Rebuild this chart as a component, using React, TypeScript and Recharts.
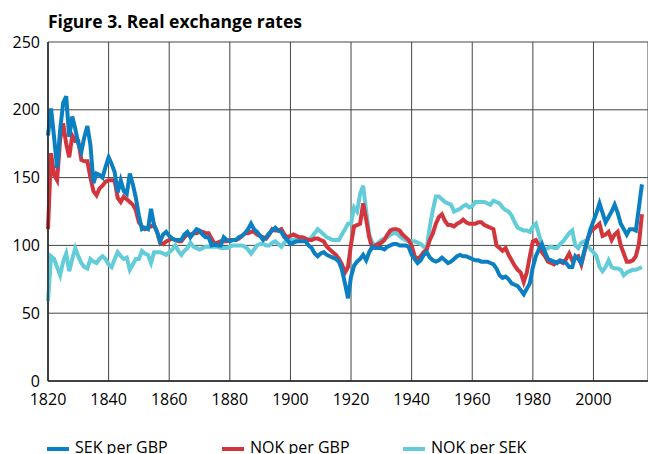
import React from 'react';
import { LineChart, Line, XAxis, YAxis, CartesianGrid } from 'recharts';

// one value per year, 1820 to 2016
const startYear = 1820;

const sekPerGbp = [
  181, 201, 180, 157, 185, 205, 210, 180, 195, 186,
  175, 169, 180, 188, 174, 146, 153, 152, 150, 158,
  165, 160, 154, 139, 148, 140, 138, 153, 145, 135,
  122, 112, 113, 112, 127, 115, 110, 103, 108, 110,
  107, 105, 104, 104, 104, 108, 110, 106, 109, 112,
  111, 108, 106, 106, 100, 101, 100, 100, 106, 104,
  103, 104, 104, 106, 107, 109, 112, 116, 112, 110,
  107, 104, 106, 109, 111, 113, 111, 110, 106, 104,
  101, 102, 103, 103, 103, 103, 100, 98, 94, 92,
  94, 95, 93, 92, 91, 90, 88, 82, 72, 61,
  77, 85, 88, 90, 93, 89, 95, 99, 98, 98,
  98, 97, 99, 100, 101, 101, 100, 100, 100, 99,
  93, 90, 87, 89, 93, 95, 91, 89, 88, 89,
  91, 89, 87, 88, 90, 92, 93, 92, 92, 91,
  90, 89, 89, 88, 88, 88, 87, 86, 83, 78,
  76, 77, 75, 72, 71, 70, 67, 64, 68, 72,
  84, 92, 97, 101, 95, 90, 89, 88, 87, 89,
  88, 87, 84, 84, 92, 90, 87, 96, 104, 112,
  118, 124, 131, 124, 117, 121, 125, 130, 124, 116,
  112, 108, 112, 112, 111, 128, 145,
];

const nokPerGbp = [
  112, 168, 152, 148, 178, 190, 175, 165, 181, 177,
  177, 163, 162, 162, 150, 140, 137, 142, 144, 147,
  148, 148, 148, 135, 132, 136, 134, 132, 130, 126,
  117, 114, 112, 113, 114, 115, 110, 102, 101, 103,
  104, 105, 104, 103, 103, 106, 108, 108, 109, 109,
  110, 110, 109, 109, 105, 101, 102, 103, 103, 103,
  104, 104, 104, 105, 107, 109, 109, 110, 110, 108,
  107, 106, 105, 108, 112, 111, 111, 112, 108, 106,
  107, 108, 107, 106, 106, 105, 104, 104, 105, 105,
  104, 103, 99, 97, 95, 93, 90, 86, 80, 84,
  101, 114, 115, 116, 131, 119, 106, 98, 100, 101,
  102, 104, 108, 111, 112, 112, 111, 108, 106, 104,
  100, 92, 90, 92, 95, 97, 104, 109, 116, 121,
  123, 118, 115, 115, 114, 116, 117, 119, 117, 116,
  116, 116, 117, 117, 115, 114, 113, 112, 100, 98,
  96, 98, 93, 89, 85, 82, 80, 73, 80, 92,
  103, 104, 100, 95, 92, 88, 87, 86, 88, 88,
  87, 90, 94, 89, 91, 92, 86, 95, 104, 110,
  112, 114, 116, 107, 108, 110, 104, 108, 110, 100,
  94, 88, 88, 89, 92, 101, 123,
];

const nokPerSek = [
  59, 92, 90, 84, 78, 88, 94, 81, 90, 98,
  92, 87, 84, 83, 90, 88, 87, 90, 92, 90,
  86, 84, 90, 95, 92, 90, 91, 82, 86, 90,
  90, 96, 94, 93, 87, 95, 95, 95, 94, 93,
  95, 97, 100, 96, 93, 96, 98, 102, 99, 98,
  97, 98, 99, 99, 99, 99, 99, 98, 98, 98,
  99, 100, 100, 100, 100, 99, 97, 94, 97, 100,
  101, 101, 100, 100, 102, 103, 101, 99, 102, 104,
  104, 104, 105, 105, 105, 104, 104, 106, 109, 112,
  110, 108, 106, 105, 104, 104, 104, 108, 112, 116,
  116, 128, 125, 138, 144, 125, 108, 102, 100, 102,
  104, 105, 106, 108, 109, 109, 107, 105, 104, 103,
  103, 103, 102, 101, 99, 98, 114, 126, 136, 136,
  134, 132, 131, 130, 125, 126, 127, 129, 130, 128,
  129, 132, 132, 132, 132, 131, 130, 133, 132, 131,
  128, 126, 125, 122, 117, 113, 112, 111, 111, 110,
  114, 116, 108, 100, 97, 98, 99, 98, 98, 101,
  103, 106, 109, 111, 100, 98, 102, 103, 100, 97,
  95, 92, 84, 81, 84, 89, 84, 83, 83, 82,
  78, 80, 81, 82, 82, 83, 84,
];

const xTicks = [1820, 1840, 1860, 1880, 1900, 1920, 1940, 1960, 1980, 2000];
const yTicks = [0, 50, 100, 150, 200, 250];

const seriesList = [
  { key: 'sek', name: 'SEK per GBP', color: '#0a7fc2', legendLeft: 47 },
  { key: 'nok', name: 'NOK per GBP', color: '#d2353b', legendLeft: 222 },
  { key: 'nokSek', name: 'NOK per SEK', color: '#63ccd9', legendLeft: 403 },
];

const data = sekPerGbp.map((v, i) => ({
  year: startYear + i,
  sek: v,
  nok: nokPerGbp[i],
  nokSek: nokPerSek[i],
}));

const font = '"Open Sans", sans-serif';

const App = () => {
  // cyan first, blue last so blue sits on top
  const drawOrder = [seriesList[2], seriesList[1], seriesList[0]];

  return (
    <div style={{ position: 'absolute', left: 0, top: 0, width: 648, height: 454, overflow: 'hidden', background: '#fff', fontFamily: font }}>
      <div style={{ position: 'absolute', left: 48, top: 11, fontSize: 17.5, lineHeight: '20px', fontWeight: 700, color: '#000', whiteSpace: 'nowrap' }}>
        Figure 3. Real exchange rates
      </div>

      <LineChart width={648} height={454} data={data} margin={{ top: 42, right: 0, bottom: 43, left: 0 }}>
        <CartesianGrid stroke="#444" strokeWidth={1} horizontal vertical />
        <XAxis
          dataKey="year"
          type="number"
          domain={[1820, 2018]}
          ticks={xTicks}
          tickLine={false}
          tickMargin={7}
          axisLine={{ stroke: '#222', strokeWidth: 1.5 }}
          tick={{ fill: '#000', fontSize: 16, fontFamily: font }}
          height={30}
          interval={0}
        />
        <YAxis
          type="number"
          domain={[0, 250]}
          ticks={yTicks}
          tickLine={false}
          axisLine={{ stroke: '#222', strokeWidth: 1.5 }}
          tick={{ fill: '#000', fontSize: 16, fontFamily: font }}
          width={48}
          interval={0}
        />
        {drawOrder.map((s) => (
          <Line
            key={s.key}
            type="linear"
            dataKey={s.key}
            name={s.name}
            stroke={s.color}
            strokeWidth={4}
            dot={false}
            isAnimationActive={false}
          />
        ))}
      </LineChart>

      {seriesList.map((s) => (
        <div key={s.key} style={{ position: 'absolute', left: s.legendLeft, top: 437, height: 20, display: 'flex', alignItems: 'center', fontSize: 16, lineHeight: '20px', color: '#000', whiteSpace: 'nowrap' }}>
          <span style={{ display: 'inline-block', width: 22, height: 4, background: s.color, marginRight: 6, marginTop: 3 }} />
          <span>{s.name}</span>
        </div>
      ))}
    </div>
  );
};

export default App;
